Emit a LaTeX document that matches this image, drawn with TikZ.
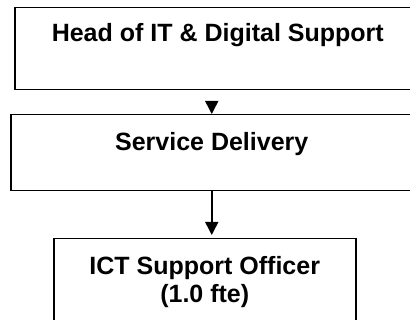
\documentclass[tikz,border=0pt]{standalone}
\usepackage{fontspec}
\setmainfont{Liberation Sans}
\usetikzlibrary{arrows.meta}

\begin{document}
\begin{tikzpicture}
    [x=1pt, y=-1pt,
    font=\fontsize{25}{28}\selectfont\bfseries,
    box/.style={
        draw,
        line width=1.5pt,
        anchor=north west,
        inner ysep=0pt,
        align=center
    },
    line/.style={
        draw, line width=1.5pt, -{Triangle[length=13pt, width=13pt]}
    }
    ]
    \useasboundingbox (0,0) rectangle (410,320);

    % Kassar
    \node[box, minimum width=406pt, minimum height=82pt, text height=34pt, text depth=48pt] (head) at (14,7) {Head of IT \& Digital Support};
    \node[box, minimum width=402pt, minimum height=76pt, text height=36pt, text depth=40pt] (service) at (10,114) {Service Delivery};
    \node[box, minimum width=302pt, minimum height=86pt] (officer) at (53,238) {ICT Support Officer\\(1.0 fte)};

    % Línur
    \path [line, shorten <=12pt] (head.south -| service.north) -- (service.north);
    \path [line, shorten >=3pt] (service.south) -- (service.south |- officer.north);
\end{tikzpicture}
\end{document}
